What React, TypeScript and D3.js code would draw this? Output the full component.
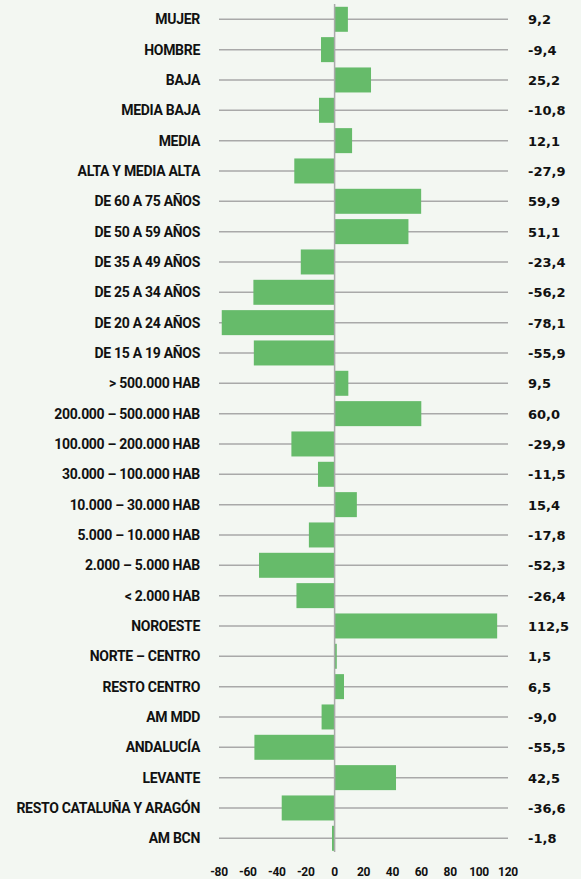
import { useEffect, useRef } from "react";
import * as d3 from "d3";

const categories = [
  "MUJER", "HOMBRE", "BAJA", "MEDIA BAJA", "MEDIA", "ALTA Y MEDIA ALTA",
  "DE 60 A 75 AÑOS", "DE 50 A 59 AÑOS", "DE 35 A 49 AÑOS", "DE 25 A 34 AÑOS",
  "DE 20 A 24 AÑOS", "DE 15 A 19 AÑOS", "> 500.000 HAB", "200.000 – 500.000 HAB",
  "100.000 – 200.000 HAB", "30.000 – 100.000 HAB", "10.000 – 30.000 HAB",
  "5.000 – 10.000 HAB", "2.000 – 5.000 HAB", "< 2.000 HAB", "NOROESTE",
  "NORTE – CENTRO", "RESTO CENTRO", "AM MDD", "ANDALUCÍA", "LEVANTE",
  "RESTO CATALUÑA Y ARAGÓN", "AM BCN",
];
const values = [
  9.2, -9.4, 25.2, -10.8, 12.1, -27.9, 59.9, 51.1, -23.4, -56.2, -78.1, -55.9,
  9.5, 60.0, -29.9, -11.5, 15.4, -17.8, -52.3, -26.4, 112.5, 1.5, 6.5, -9.0,
  -55.5, 42.5, -36.6, -1.8,
];
const ticks = [-80, -60, -40, -20, 0, 20, 40, 60, 80, 100, 120];

const W = 581, H = 879;
const labelFont = "Roboto, 'Liberation Sans', sans-serif";
const valueFont = "'DejaVu Sans', 'Liberation Sans', sans-serif";

export default function App() {
  const ref = useRef<SVGSVGElement>(null);

  useEffect(() => {
    if (!ref.current) return;
    const svg = d3.select(ref.current);
    svg.selectAll("*").remove();

    const x = d3.scaleLinear().domain([-80, 120]).range([219, 508]);
    const y = d3.scalePoint<string>().domain(categories).range([19.3, 838.3]);
    const barH = 25;

    svg.append("rect").attr("width", W).attr("height", H).style("fill", "#f3f7f2");

    // grid lines
    svg.append("g").selectAll("line").data(categories).enter().append("line")
      .attr("x1", x(-80)).attr("x2", x(120))
      .attr("y1", d => y(d)!).attr("y2", d => y(d)!)
      .style("stroke", "#a9a9a9").style("stroke-width", 1.5);

    // bars
    svg.append("g").selectAll("rect").data(values).enter().append("rect")
      .attr("x", d => x(Math.min(0, d)))
      .attr("width", d => Math.abs(x(d) - x(0)))
      .attr("y", (_, i) => y(categories[i])! - barH / 2)
      .attr("height", barH)
      .style("fill", "#66bb6a");

    // zero line
    svg.append("line")
      .attr("x1", x(0)).attr("x2", x(0)).attr("y1", 4).attr("y2", 852)
      .style("stroke", "#aaaaaa").style("stroke-width", 1.5);

    // category labels
    svg.append("g").selectAll("text").data(categories).enter().append("text")
      .attr("x", 200).attr("y", d => y(d)! + 5)
      .attr("text-anchor", "end")
      .style("font-family", labelFont).style("font-weight", "700")
      .style("font-size", "14px").style("letter-spacing", "-0.3px")
      .style("fill", "#111")
      .text(d => d);

    // value labels
    svg.append("g").selectAll("text").data(values).enter().append("text")
      .attr("x", 528).attr("y", (_, i) => y(categories[i])! + 5)
      .style("font-family", valueFont).style("font-weight", "700")
      .style("font-size", "13px")
      .style("fill", "#111")
      .text(d => d.toFixed(1).replace(".", ","));

    // axis tick labels
    svg.append("g").selectAll("text").data(ticks).enter().append("text")
      .attr("x", d => x(d)).attr("y", 876)
      .attr("text-anchor", "middle")
      .style("font-family", labelFont).style("font-weight", "700")
      .style("font-size", "12px").style("letter-spacing", "-0.3px")
      .style("fill", "#111")
      .text(d => String(d));
  }, []);

  return (
    <svg ref={ref} width={W} height={H}
      style={{ position: "absolute", left: 0, top: 0, display: "block" }} />
  );
}
